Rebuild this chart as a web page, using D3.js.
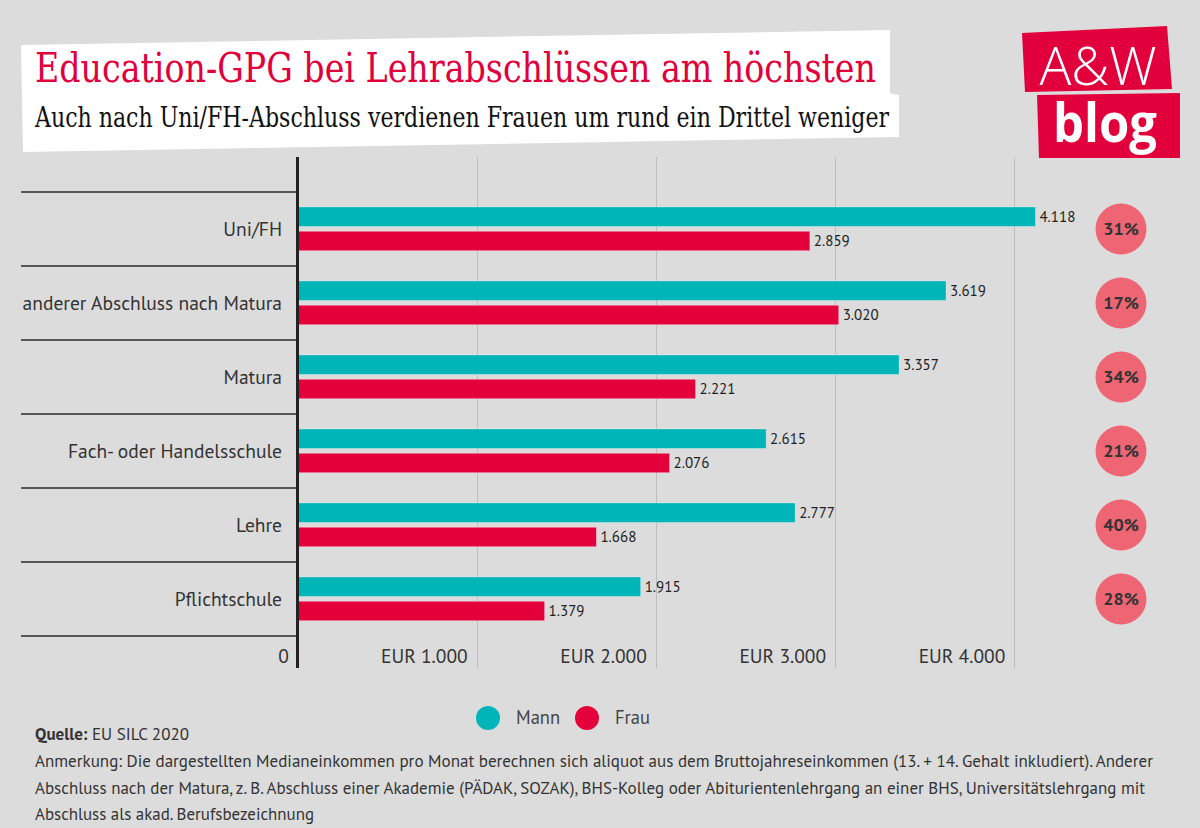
<!DOCTYPE html>
<html><head><meta charset="utf-8">
<script src="https://cdn.jsdelivr.net/npm/d3@7"></script>
<style>
html,body{margin:0;padding:0;background:#dcdcdc;}
svg{display:block;}
</style></head>
<body>
<script>
const categories = ["Uni/FH","anderer Abschluss nach Matura","Matura","Fach- oder Handelsschule","Lehre","Pflichtschule"];
const series = ["Mann","Frau"];
const mannValues = [4118,3619,3357,2615,2777,1915];
const frauValues = [2859,3020,2221,2076,1668,1379];
const gapLabels = ["31%","17%","34%","21%","40%","28%"];
const tickValues = [1000,2000,3000,4000];
const tickLabels = ["EUR 1.000","EUR 2.000","EUR 3.000","EUR 4.000"];
const title = "Education-GPG bei Lehrabschlüssen am höchsten";
const subtitle = "Auch nach Uni/FH-Abschluss verdienen Frauen um rund ein Drittel weniger";
const sourceLabel = "Quelle:";
const sourceText = " EU SILC 2020";
const noteLines = [
 "Anmerkung: Die dargestellten Medianeinkommen pro Monat berechnen sich aliquot aus dem Bruttojahreseinkommen (13. + 14. Gehalt inkludiert). Anderer",
 "Abschluss nach der Matura, z. B. Abschluss einer Akademie (PÄDAK, SOZAK), BHS-Kolleg oder Abiturientenlehrgang an einer BHS, Universitätslehrgang mit",
 "Abschluss als akad. Berufsbezeichnung"
];

const W = 1200, H = 828;
const colors = {Mann:"#00b5b7", Frau:"#e4003b"};
const bg = "#dcdcdc";
const sans = "'PT Sans', Lato, 'Open Sans', sans-serif";
const serif = "'DejaVu Serif Condensed','DejaVu Serif',serif";

const svg = d3.select("body").append("svg").attr("width",W).attr("height",H);
svg.append("rect").attr("width",W).attr("height",H).attr("fill",bg);

// Title box
svg.append("path").attr("fill","#fff")
  .attr("d","M21,45 L890,30 L890,93 L899,95 L899,137 L23,152 Z");
svg.append("text").attr("x",35).attr("y",82).attr("fill","#e2003c")
  .attr("font-family",serif).attr("font-size",41)
  .attr("textLength",841).attr("lengthAdjust","spacingAndGlyphs").text(title);
svg.append("text").attr("x",35).attr("y",127).attr("fill","#111")
  .attr("font-family",serif).attr("font-size",27)
  .attr("textLength",854).attr("lengthAdjust","spacingAndGlyphs").text(subtitle);

// Logo
svg.append("path").attr("fill","#e2003c").attr("d","M1022,33 L1167,26 L1172,89 L1025,92 Z");
svg.append("path").attr("fill","#e2003c").attr("d","M1037,95 L1180,93 L1180,158 L1039,158 Z");
svg.append("text").attr("x",1098).attr("y",85).attr("text-anchor","middle").attr("fill","#fff")
  .attr("font-family","'Open Sans',sans-serif").attr("font-size",54).attr("font-weight",300)
  .attr("textLength",117).attr("lengthAdjust","spacingAndGlyphs").text("A&W");
svg.append("text").attr("x",1105).attr("y",142).attr("text-anchor","middle").attr("fill","#fff")
  .attr("font-family","'Open Sans',sans-serif").attr("font-size",53).attr("font-weight",700)
  .attr("textLength",104).attr("lengthAdjust","spacingAndGlyphs").text("blog");

// Scales
const x = d3.scaleLinear().domain([0,4000]).range([297.5,1014.3]);
const y = d3.scaleBand().domain(categories).range([192,636]).paddingInner(0).paddingOuter(0);
const ySub = d3.scaleBand().domain(series).range([15,58.7]).paddingInner(0.2);

// Grid lines
svg.append("g").selectAll("line").data(tickValues).join("line")
  .attr("x1",d=>Math.round(x(d))+0.5).attr("x2",d=>Math.round(x(d))+0.5)
  .attr("y1",157).attr("y2",668).attr("stroke","#bdbdbd").attr("stroke-width",1);

// Category separators
const seps = categories.map(c=>y(c)).concat([y.range()[1]]);
svg.append("g").selectAll("line").data(seps).join("line")
  .attr("x1",21).attr("x2",297).attr("y1",d=>d).attr("y2",d=>d)
  .attr("stroke","#2a2a2a").attr("stroke-width",1.6);

// Tick labels
svg.append("g").selectAll("text").data(tickValues).join("text")
  .attr("x",d=>x(d)-9).attr("y",663).attr("text-anchor","end")
  .attr("font-family",sans).attr("font-size",19.5).attr("fill","#333")
  .text((d,i)=>tickLabels[i]);
svg.append("text").attr("x",289).attr("y",663).attr("text-anchor","end")
  .attr("font-family",sans).attr("font-size",19.5).attr("fill","#333").text("0");

// Bars
const data = categories.map((c,i)=>({cat:c, Mann:mannValues[i], Frau:frauValues[i], gap:gapLabels[i]}));
const groups = svg.append("g").selectAll("g").data(data).join("g")
  .attr("transform",d=>`translate(0,${y(d.cat)})`);
series.forEach(s=>{
  groups.append("rect")
    .attr("x",x(0)).attr("y",ySub(s)).attr("width",d=>x(d[s])-x(0)).attr("height",ySub.bandwidth())
    .attr("fill",colors[s]).attr("stroke","rgba(255,255,255,0.35)").attr("stroke-width",0.8);
  groups.append("text")
    .attr("x",d=>x(d[s])+4).attr("y",ySub(s)+ySub.bandwidth()/2).attr("dy","0.36em")
    .attr("font-family",sans).attr("font-size",15).attr("fill","#222")
    .text(d=>d3.format(",")(d[s]).replace(",","."));
});

// Category labels
groups.append("text").attr("x",282).attr("y",y.bandwidth()/2).attr("dy","0.35em")
  .attr("text-anchor","end").attr("font-family",sans).attr("font-size",19.5).attr("fill","#333")
  .text(d=>d.cat);

// Gap circles
groups.append("circle").attr("cx",1121).attr("cy",y.bandwidth()/2).attr("r",25.5).attr("fill","#ee6674");
groups.append("text").attr("x",1121).attr("y",y.bandwidth()/2).attr("dy","0.36em")
  .attr("text-anchor","middle").attr("font-family",sans).attr("font-size",18).attr("font-weight",700)
  .attr("fill","#333").text(d=>d.gap);

// Axis line
svg.append("line").attr("x1",x(0)).attr("x2",x(0)).attr("y1",157).attr("y2",668)
  .attr("stroke","#222").attr("stroke-width",3);

// Legend
const legendX = [488, 587];
const lg = svg.append("g").selectAll("g").data(series).join("g")
  .attr("transform",(d,i)=>`translate(${legendX[i]},718)`);
lg.append("circle").attr("r",12).attr("fill",d=>colors[d]);
lg.append("text").attr("x",28).attr("dy","0.35em").attr("font-family",sans).attr("font-size",18.5)
  .attr("fill","#444").text(d=>d);

// Footer
const src = svg.append("text").attr("x",35).attr("y",740).attr("font-family",sans).attr("font-size",17).attr("fill","#333");
src.append("tspan").attr("font-weight",700).text(sourceLabel);
src.append("tspan").text(sourceText);
const noteWidths = [1153, 1145, 314];
svg.append("g").selectAll("text").data(noteLines).join("text")
  .attr("x",35).attr("y",(d,i)=>767+i*26.5).attr("font-family",sans).attr("font-size",17).attr("fill","#333")
  .attr("textLength",(d,i)=>noteWidths[i]-35).attr("lengthAdjust","spacingAndGlyphs")
  .text(d=>d);
</script>
</body></html>
